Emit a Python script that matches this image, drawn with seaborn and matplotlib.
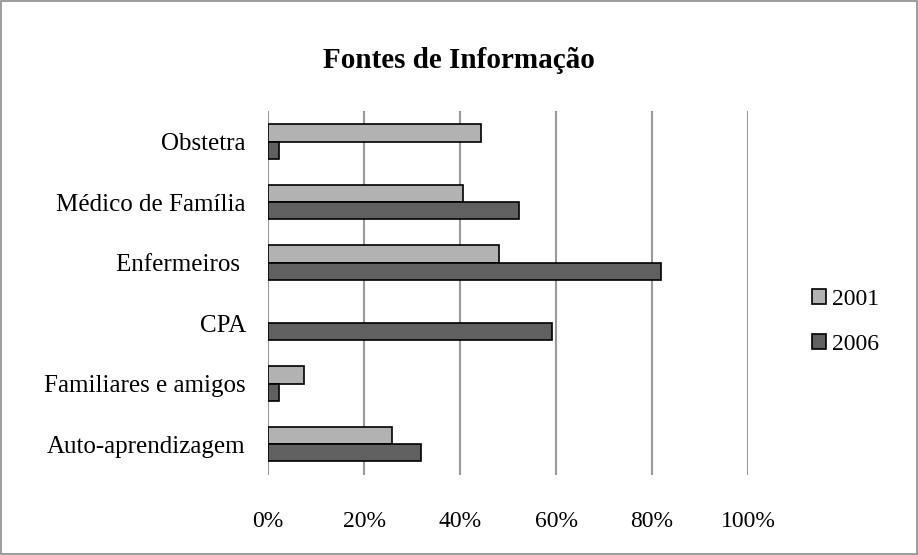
import matplotlib
matplotlib.use("Agg")
import matplotlib.pyplot as plt
import seaborn as sns
import pandas as pd
from matplotlib.patches import Rectangle, Patch
from matplotlib.ticker import PercentFormatter

categories = ["Obstetra", "Médico de Família", "Enfermeiros ", "CPA",
              "Familiares e amigos", "Auto-aprendizagem"]
series_names = ["2001", "2006"]
values_2001 = [44.4, 40.6, 48.1, 0.0, 7.4, 25.9]
values_2006 = [2.3, 52.3, 81.8, 59.2, 2.3, 31.8]
x_ticks = [0, 20, 40, 60, 80, 100]

df = pd.DataFrame({
    "Fonte": categories * 2,
    "Ano": [series_names[0]] * len(categories) + [series_names[1]] * len(categories),
    "Valor": values_2001 + values_2006,
})

sns.set_theme(style="white")
plt.rcParams["font.family"] = ["Liberation Serif", "DejaVu Serif"]
plt.rcParams["text.color"] = "black"

fig = plt.figure(figsize=(9.18, 5.55), dpi=100)
ax = fig.add_axes([268 / 918, 1 - 474.5 / 555, 480 / 918, 363.25 / 555])

colors = {"2001": "#b2b2b2", "2006": "#606060"}
sns.barplot(data=df, y="Fonte", x="Valor", hue="Ano", order=categories,
            hue_order=series_names, palette=colors, orient="h", width=0.57,
            edgecolor="black", linewidth=1.2, ax=ax, legend=False, zorder=3)
for p in ax.patches:
    if p.get_width() == 0:
        p.set_visible(False)

ax.set_xlim(0, 100)
ax.set_xticks(x_ticks)
ax.xaxis.set_major_formatter(PercentFormatter(decimals=0))
ax.grid(axis="x", color="#999999", linewidth=1.5, zorder=0)
ax.grid(axis="y", visible=False)
for s in ax.spines.values():
    s.set_visible(False)
ax.set_xlabel("")
ax.set_ylabel("")
ax.tick_params(axis="x", length=0, pad=26, labelsize=17, colors="black")
ax.tick_params(axis="y", length=0, pad=16, labelsize=18, colors="black")

fig.text(0.5, 1 - 61 / 555, "Fontes de Informação", ha="center", va="center",
         fontsize=21, fontweight="bold", color="black")

handles = [Patch(facecolor=colors[n], edgecolor="black", linewidth=1.2, label=n)
           for n in series_names]
fig.legend(handles=handles, loc="center left", bbox_to_anchor=(791 / 918, 1 - 322 / 555),
           frameon=False, fontsize=17, handlelength=0.6, handleheight=0.6,
           handletextpad=0.25, labelspacing=1.0, labelcolor="black")

fig.patches.append(Rectangle((0.001, 0.001), 0.998, 0.997, transform=fig.transFigure,
                             fill=False, edgecolor="#8c8c8c", linewidth=1.2))

fig.savefig("out.png", dpi=100)
